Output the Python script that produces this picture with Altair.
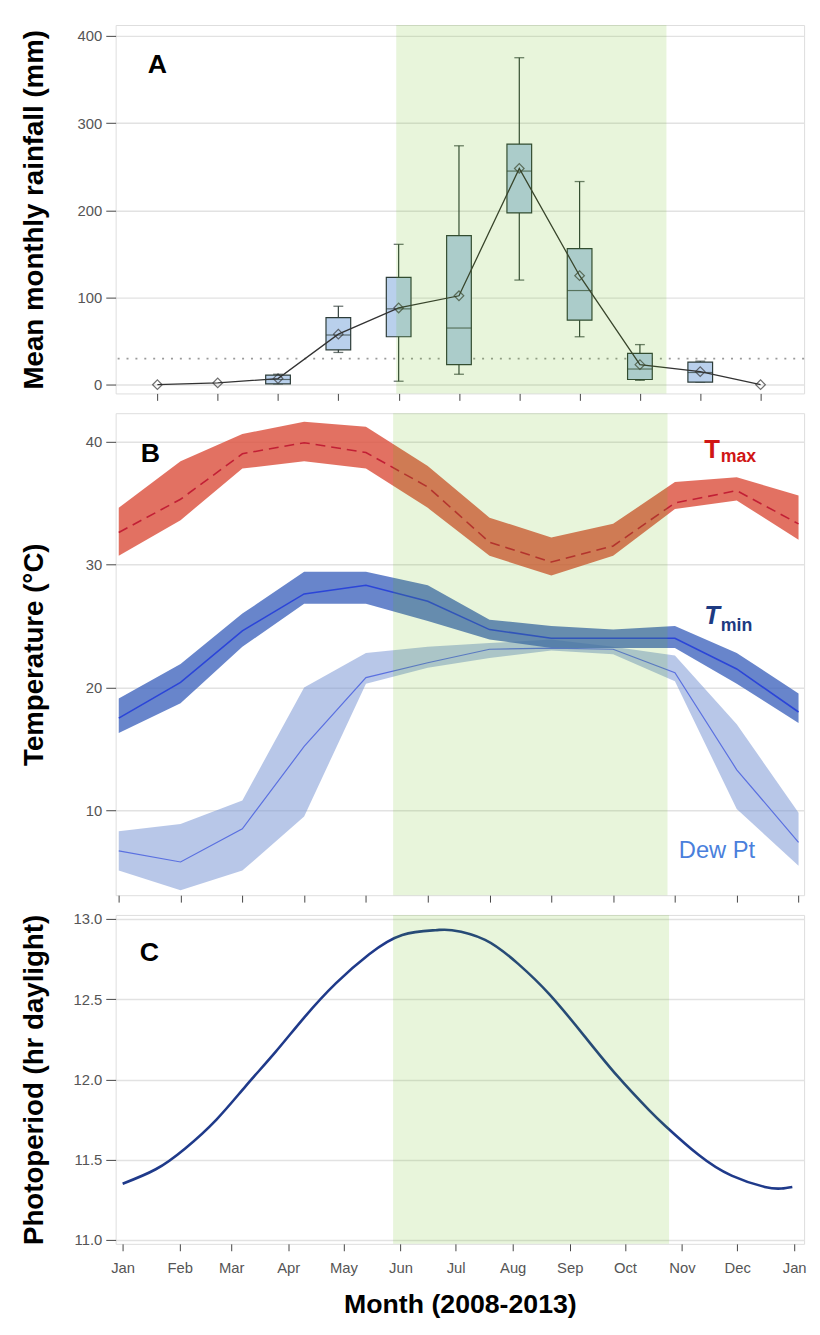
import altair as alt
import pandas as pd

FONT = "Liberation Sans"

# ---------------- Panel A : rainfall box plots ----------------
rain_pos = [1, 2, 3, 4, 5, 6, 7, 8, 9, 10, 11]
rain_mean = [0, 2, 7, 58, 88, 102, 248, 125, 23, 15, 0]
box_pos = [3, 4, 5, 6, 7, 8, 9, 10]
box_lo = [1, 37, 4, 12, 120, 55, 5, 3]
box_q1 = [1, 40, 55, 23, 197, 74, 6, 3]
box_med = [6, 57, 87, 65, 245, 108, 18, 14]
box_q3 = [11, 77, 123, 171, 276, 156, 36, 26]
box_hi = [12, 90, 161, 274, 375, 233, 46, 27]
rain_threshold = [30]
season_A = [4.96, 9.44]

# ---------------- Panel B : temperatures ----------------
months = [1, 2, 3, 4, 5, 6, 7, 8, 9, 10, 11, 12]
tmax_mean = [32.6, 35.3, 39.0, 39.9, 39.1, 36.3, 31.8, 30.2, 31.5, 35.0, 36.0, 33.3]
tmax_lo = [30.7, 33.6, 37.8, 38.4, 37.8, 34.6, 30.7, 29.1, 30.7, 34.5, 35.2, 32.0]
tmax_hi = [34.6, 38.4, 40.6, 41.6, 41.2, 38.0, 33.8, 32.2, 33.3, 36.7, 37.1, 35.6]
tmin_mean = [17.5, 20.4, 24.6, 27.6, 28.3, 27.0, 24.7, 24.0, 24.0, 24.0, 21.5, 18.0]
tmin_lo = [16.3, 18.7, 23.3, 26.8, 26.8, 25.4, 23.9, 23.2, 23.2, 23.2, 20.3, 17.1]
tmin_hi = [19.1, 21.9, 26.0, 29.4, 29.4, 28.3, 25.5, 25.0, 24.7, 25.0, 22.8, 19.5]
dew_mean = [6.7, 5.8, 8.5, 15.2, 20.8, 22.0, 23.1, 23.2, 23.1, 21.2, 13.3, 7.4]
dew_lo = [5.1, 3.5, 5.1, 9.5, 20.3, 21.6, 22.4, 23.0, 22.7, 20.5, 10.1, 5.5]
dew_hi = [8.3, 8.9, 10.8, 20.0, 22.8, 23.3, 23.6, 23.9, 23.3, 22.6, 17.0, 9.8]
season_B = [5.44, 9.88]

# ---------------- Panel C : photoperiod ----------------
photo_day = [0, 18, 34, 51, 67, 83, 99, 116, 134, 152, 170, 179, 197, 215,
             232, 251, 269, 286, 295, 313, 331, 349, 358, 364]
photo_hours = [11.35, 11.44, 11.57, 11.75, 11.96, 12.17, 12.39, 12.60, 12.78,
               12.90, 12.93, 12.93, 12.87, 12.72, 12.53, 12.27, 12.02, 11.81,
               11.71, 11.53, 11.40, 11.33, 11.32, 11.33]
month_start_day = [0, 31, 59, 90, 120, 151, 181, 212, 243, 273, 304, 334, 365]
month_labels = ["Jan", "Feb", "Mar", "Apr", "May", "Jun", "Jul", "Aug",
                "Sep", "Oct", "Nov", "Dec", "Jan"]
season_C = [147, 297]

# annotation anchors (data units of each panel)
letter_A = [1.0, 367, "A"]
letter_B = [1.51, 39.0, "B"]
letter_C = [14.5, 12.785, "C"]
tmax_T = [10.6, 39.3, "T"]
tmax_sub = [10.74, 38.7, "max"]
tmin_T = [10.6, 25.76, "T"]
tmin_sub = [10.74, 24.95, "min"]
dew_lab = [10.68, 6.7, "Dew Pt"]

W = 697
HA, HB, HC = 373, 488, 333
GREEN = "#5cb800"
FRAME = "#444444"
GRID = "#e2e2e2"


def yaxis(title, values, h, fmt=None, weight="bold"):
    kw = dict(values=values, title=title, titleFontSize=28, titleFontWeight=weight,
              titleColor="black", titleFont=FONT, labelFont=FONT, labelFontSize=15,
              labelColor="#555555", tickSize=10, tickColor=FRAME, labelPadding=4,
              grid=True, gridColor=GRID, gridWidth=1.5, domain=False,
              titleX=-82, titleY=h / 2, titleAngle=270, titleBaseline="middle",
              titleAlign="center")
    if fmt:
        kw["format"] = fmt
    return alt.Axis(**kw)


def xaxis_plain(values):
    return alt.Axis(values=values, labels=False, title=None, tickSize=7,
                    tickColor=FRAME, domain=False, grid=False)


def text_layer(rows, size, color, align="center", weight="bold", style="normal"):
    df = pd.DataFrame(rows, columns=["x", "y", "t"])
    return alt.Chart(df).mark_text(font=FONT, fontSize=size, fontWeight=weight,
                                   fontStyle=style, color=color, align=align,
                                   baseline="middle").encode(
        x="x:Q", y="y:Q", text="t:N")


# ---- Panel A
xA_scale = alt.Scale(domain=[0.39, 11.64], nice=False, zero=False)
xA = alt.X("p:Q", scale=xA_scale, axis=xaxis_plain(rain_pos))
yA_scale = alt.Scale(domain=[-10, 412.5], nice=False, zero=False)
mean_df = pd.DataFrame({"p": rain_pos, "v": rain_mean})
box_df = pd.DataFrame({"p": box_pos, "lo": box_lo, "q1": box_q1, "med": box_med,
                       "q3": box_q3, "hi": box_hi})
thr_df = pd.DataFrame({"v": rain_threshold})
seasA_df = pd.DataFrame({"a": [season_A[0]], "b": [season_A[1]]})

baseA = alt.Chart(box_df)
thr = alt.Chart(thr_df).mark_rule(color="#9a9a9a", strokeDash=[2, 7], strokeWidth=1.8).encode(
    y=alt.Y("v:Q", scale=yA_scale,
            axis=yaxis("Mean monthly rainfall (mm)", [0, 100, 200, 300, 400], HA)))
whisk = baseA.mark_rule(color="#2d3c38", strokeWidth=1.2).encode(
    x=xA, y=alt.Y("lo:Q", scale=yA_scale), y2="hi:Q")
cap_lo = baseA.mark_tick(orient="horizontal", size=10, thickness=1.3, color="#2d3c38").encode(
    x=xA, y=alt.Y("lo:Q", scale=yA_scale))
cap_hi = baseA.mark_tick(orient="horizontal", size=10, thickness=1.3, color="#2d3c38").encode(
    x=xA, y=alt.Y("hi:Q", scale=yA_scale))
boxes = baseA.mark_bar(size=25, fill="#b9d0ec", stroke="#2d3c38", strokeWidth=1.2).encode(
    x=xA, y=alt.Y("q1:Q", scale=yA_scale), y2="q3:Q")
meds = baseA.mark_tick(orient="horizontal", size=25, thickness=1.2, color="#2d3c38").encode(
    x=xA, y=alt.Y("med:Q", scale=yA_scale))
mline = alt.Chart(mean_df).mark_line(color="#333333", strokeWidth=1.3).encode(
    x=xA, y=alt.Y("v:Q", scale=yA_scale))
mpts = alt.Chart(mean_df).mark_point(shape="diamond", size=95, filled=False,
                                     color="#333333", strokeWidth=1.2).encode(
    x=xA, y=alt.Y("v:Q", scale=yA_scale))
seasA = alt.Chart(seasA_df).mark_rect(color=GREEN, opacity=0.14).encode(
    x=alt.X("a:Q", scale=xA_scale), x2="b:Q")
labA = text_layer([letter_A], 27, "black").encode(
    x=alt.X("x:Q", scale=xA_scale), y=alt.Y("y:Q", scale=yA_scale))

panelA = alt.layer(thr, whisk, cap_lo, cap_hi, boxes, meds, mline, mpts, seasA, labA).properties(
    width=W, height=HA)

# ---- Panel B
xB_scale = alt.Scale(domain=[0.95, 12.09], nice=False, zero=False)
yB_scale = alt.Scale(domain=[3.1, 42.3], nice=False, zero=False)
temp_df = pd.DataFrame({"m": months, "tmax": tmax_mean, "tmax_lo": tmax_lo, "tmax_hi": tmax_hi,
                        "tmin": tmin_mean, "tmin_lo": tmin_lo, "tmin_hi": tmin_hi,
                        "dew": dew_mean, "dew_lo": dew_lo, "dew_hi": dew_hi})
bB = alt.Chart(temp_df)
xB = alt.X("m:Q", scale=xB_scale, axis=xaxis_plain(months))
dew_band = bB.mark_area(color="#7290d2", opacity=0.5).encode(
    x=xB, y=alt.Y("dew_lo:Q", scale=yB_scale,
                  axis=yaxis("Temperature (°C)", [10, 20, 30, 40], HB)), y2="dew_hi:Q")
tmin_band = bB.mark_area(color="#3e63bd", opacity=0.78).encode(
    x=xB, y=alt.Y("tmin_lo:Q", scale=yB_scale), y2="tmin_hi:Q")
tmax_band = bB.mark_area(color="#dc5240", opacity=0.82).encode(
    x=xB, y=alt.Y("tmax_lo:Q", scale=yB_scale), y2="tmax_hi:Q")
dew_line = bB.mark_line(color="#5a70e0", strokeWidth=1.2).encode(
    x=xB, y=alt.Y("dew:Q", scale=yB_scale))
tmin_line = bB.mark_line(color="#2b45d8", strokeWidth=1.6).encode(
    x=xB, y=alt.Y("tmin:Q", scale=yB_scale))
tmax_line = bB.mark_line(color="#c21f35", strokeWidth=1.6, strokeDash=[10, 6]).encode(
    x=xB, y=alt.Y("tmax:Q", scale=yB_scale))
seasB_df = pd.DataFrame({"a": [season_B[0]], "b": [season_B[1]]})
seasB = alt.Chart(seasB_df).mark_rect(color=GREEN, opacity=0.14).encode(
    x=alt.X("a:Q", scale=xB_scale), x2="b:Q")


def tB(rows, size, color, align="center", weight="bold", style="normal"):
    return text_layer(rows, size, color, align, weight, style).encode(
        x=alt.X("x:Q", scale=xB_scale), y=alt.Y("y:Q", scale=yB_scale))


panelB = alt.layer(
    dew_band, tmin_band, tmax_band, dew_line, tmin_line, tmax_line, seasB,
    tB([letter_B], 27, "black"),
    tB([tmax_T], 26, "#d01515"),
    tB([tmax_sub], 18, "#d01515", align="left"),
    tB([tmin_T], 26, "#1d3a82", style="italic"),
    tB([tmin_sub], 18, "#1d3a82", align="left"),
    tB([dew_lab], 24, "#4a7fdc", weight="normal"),
).properties(width=W, height=HB)

# ---- Panel C
xC_scale = alt.Scale(domain=[-3.8, 370.4], nice=False, zero=False)
yC_scale = alt.Scale(domain=[10.975, 13.025], nice=False, zero=False)
label_expr = "[" + ",".join("'%s'" % m for m in month_labels) + "][indexof([" + \
    ",".join(str(d) for d in month_start_day) + "], datum.value)]"
photo_df = pd.DataFrame({"d": photo_day, "h": photo_hours})
xC_axis = alt.Axis(values=month_start_day, labelExpr=label_expr, title="Month (2008-2013)",
                   titleFontSize=27, titleFontWeight="bold", titleColor="black",
                   titleFont=FONT, titlePadding=16, labelFont=FONT, labelFontSize=15,
                   labelColor="#555555", labelPadding=10, tickSize=7, tickColor=FRAME,
                   domain=False, grid=False, labelOverlap=False, labelFlush=False)
photo = alt.Chart(photo_df).mark_line(color="#1f3a8a", strokeWidth=2.6,
                                      interpolate="natural").encode(
    x=alt.X("d:Q", scale=xC_scale, axis=xC_axis),
    y=alt.Y("h:Q", scale=yC_scale,
            axis=yaxis("Photoperiod (hr daylight)", [11.0, 11.5, 12.0, 12.5, 13.0], HC, fmt=".1f")))
seasC_df = pd.DataFrame({"a": [season_C[0]], "b": [season_C[1]]})
seasC = alt.Chart(seasC_df).mark_rect(color=GREEN, opacity=0.14).encode(
    x=alt.X("a:Q", scale=xC_scale), x2="b:Q")
labC = text_layer([letter_C], 27, "black").encode(
    x=alt.X("x:Q", scale=xC_scale), y=alt.Y("y:Q", scale=yC_scale))
panelC = alt.layer(photo, seasC, labC).properties(width=W, height=HC)

chart = alt.vconcat(panelA, panelB, panelC, spacing=20, bounds="flush").properties(
    padding={"left": 12, "top": 8, "right": 5, "bottom": 5}
).configure_view(stroke=FRAME, strokeWidth=1.6).configure(font=FONT)

chart.save("out.html", embed_options={"renderer": "svg", "actions": False})
